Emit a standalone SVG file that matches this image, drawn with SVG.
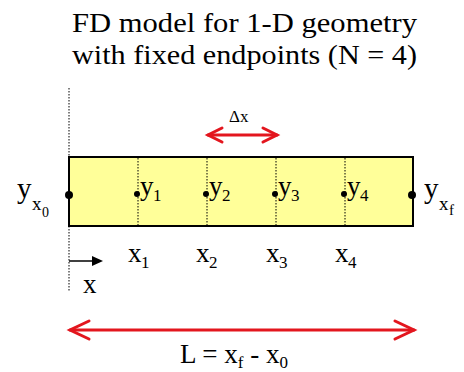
<svg xmlns="http://www.w3.org/2000/svg" width="464" height="372" viewBox="0 0 464 372">
<style>
text{font-family:Liberation Serif,DejaVu Serif,serif}
.t{font-size:27px}
.lab{font-size:27px}
.sub{font-size:17px}
.dot{stroke:#000;stroke-width:1;stroke-dasharray:1.5 1.5;fill:none}
.red{stroke:#e3161e;stroke-width:3;fill:none;stroke-linecap:round}
</style>
<rect width="464" height="372" fill="#fff"/>
<g id="title">
<text class="t" x="72" y="32" textLength="345" lengthAdjust="spacingAndGlyphs">FD model for 1-D geometry</text>
<text class="t" x="72" y="64" textLength="345" lengthAdjust="spacingAndGlyphs">with fixed endpoints (N = 4)</text>
</g>
<g id="bar">
<rect x="69" y="157" width="344" height="69" fill="#ffff99" stroke="#000" stroke-width="2"/>
</g>
<g id="connectors">
<line class="dot" x1="69" y1="88" x2="69" y2="292"/>
<line class="dot" x1="138" y1="158" x2="138" y2="225"/>
<line class="dot" x1="207" y1="158" x2="207" y2="225"/>
<line class="dot" x1="276" y1="158" x2="276" y2="225"/>
<line class="dot" x1="345" y1="158" x2="345" y2="225"/>
<g id="dx-arrow">
<line class="red" x1="208" y1="135" x2="277" y2="135"/>
<polyline class="red" points="222,128 208,135 222,142"/>
<polyline class="red" points="263,128 277,135 263,142"/>
</g>
<g id="L-arrow">
<line class="red" x1="70" y1="330" x2="414" y2="330"/>
<polyline class="red" points="89,321 70,330 89,339"/>
<polyline class="red" points="395,321 414,330 395,339"/>
</g>
<g id="x-arrow">
<line x1="69" y1="261" x2="94" y2="261" stroke="#000" stroke-width="1.5"/>
<polygon points="92,256 103,261 92,266" fill="#000"/>
</g>
</g>
<g id="node-y0">
<circle cx="69" cy="195" r="4"/>
<text x="17" y="198" font-size="29">y</text>
<text x="32" y="210" font-size="19">x</text>
<text x="42" y="217" font-size="14">0</text>
</g>
<g id="node-y1">
<circle cx="137" cy="194" r="3"/>
<text class="lab" x="140" y="195">y</text>
<text class="sub" x="153" y="201">1</text>
</g>
<g id="node-y2">
<circle cx="206" cy="194" r="3"/>
<text class="lab" x="209" y="195">y</text>
<text class="sub" x="222" y="201">2</text>
</g>
<g id="node-y3">
<circle cx="275" cy="194" r="3"/>
<text class="lab" x="278" y="195">y</text>
<text class="sub" x="291" y="201">3</text>
</g>
<g id="node-y4">
<circle cx="344" cy="194" r="3"/>
<text class="lab" x="347" y="195">y</text>
<text class="sub" x="360" y="201">4</text>
</g>
<g id="node-yf">
<circle cx="412" cy="195" r="4"/>
<text x="424" y="198" font-size="29">y</text>
<text x="439" y="210" font-size="19">x</text>
<text x="449" y="215" font-size="15">f</text>
</g>
<g id="xlabels">
<text class="lab" x="128" y="262">x</text><text class="sub" x="141" y="268">1</text>
<text class="lab" x="196" y="262">x</text><text class="sub" x="209" y="268">2</text>
<text class="lab" x="266" y="262">x</text><text class="sub" x="279" y="268">3</text>
<text class="lab" x="335" y="262">x</text><text class="sub" x="348" y="268">4</text>
<text class="lab" x="83" y="293">x</text>
</g>
<g id="dx-label">
<text x="229" y="122" font-size="17">Δx</text>
</g>
<g id="L-label">
<text class="lab" x="180" y="363">L = x<tspan class="sub" dy="5">f</tspan><tspan dy="-5"> - x</tspan><tspan class="sub" dy="5">0</tspan></text>
</g>
</svg>
